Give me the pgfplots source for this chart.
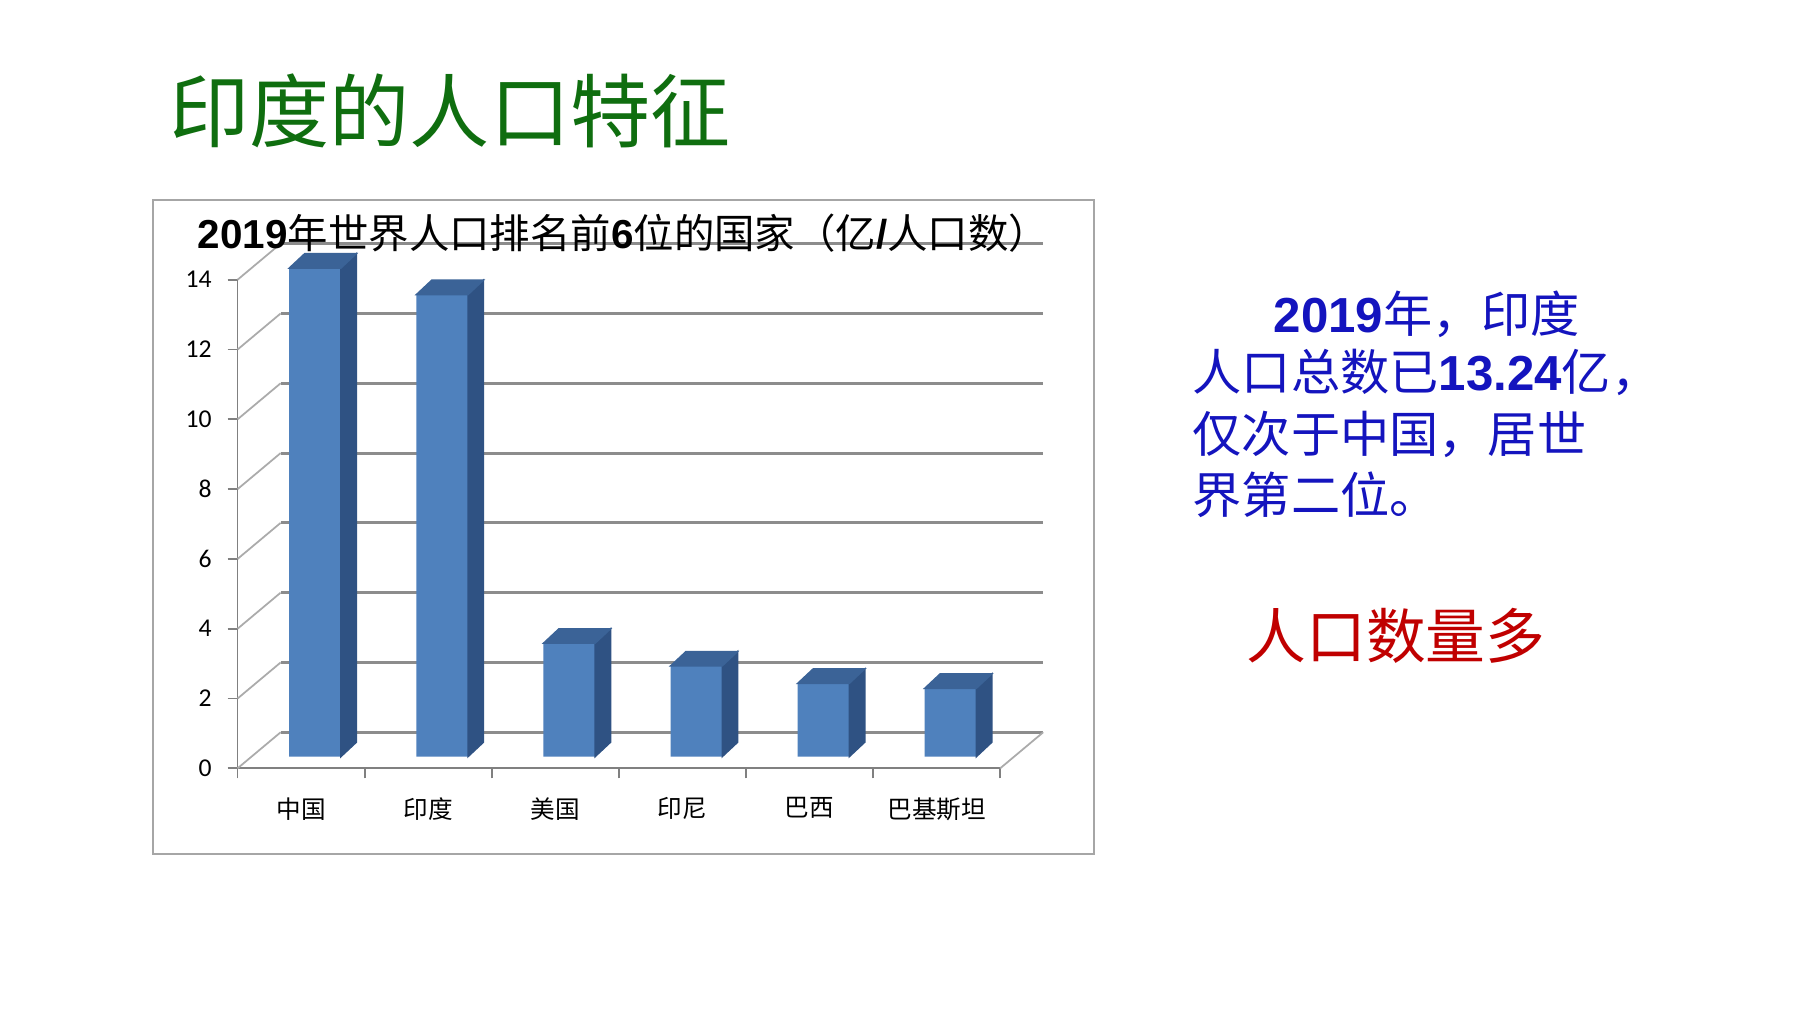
\documentclass[border=0pt]{standalone}
\usepackage{pgfplots}
\pgfplotsset{compat=1.18}
\usepackage{pgfplotstable}
\usepackage{fontspec}
\setmainfont{Liberation Sans}
\newfontfamily\cjk{Noto Sans CJK SC}
\newfontfamily\carlito{Carlito}
\definecolor{titlegreen}{HTML}{0F6E0F}
\definecolor{textblue}{HTML}{1414BE}
\definecolor{textred}{HTML}{C00000}
\definecolor{barfront}{HTML}{4F81BD}
\definecolor{barside}{HTML}{2F5283}
\definecolor{bartop}{HTML}{3B6397}
\definecolor{gridgray}{HTML}{8C8C8C}
\definecolor{diaggray}{HTML}{ABABAB}
\definecolor{framegray}{HTML}{A6A6A6}
\pgfdeclareplotmark{nothing}{}

\pgfplotstableread{
x pop
0 14.0
1 13.24
2 3.25
3 2.6
4 2.1
5 1.96
}\popdata

\begin{document}
\begin{tikzpicture}
\fill[white] (0,0) rectangle (18,10.12);
% main title
\node[text=titlegreen, font=\cjk\fontsize{22.8}{27}\selectfont, inner sep=0] at (4.50,9.01) {印度的人口特征};
% chart frame
\draw[framegray, line width=0.6pt] (1.53,1.58) rectangle (10.94,8.12);

% back wall
\begin{axis}[
  at={(2.806cm,2.797cm)}, anchor=south west,
  x=12.71mm, y=3.49mm,
  xmin=-0.5, xmax=5.5, ymin=0, ymax=14,
  axis line style={draw=none},
  xtick=\empty, ytick={0,2,...,14}, yticklabels={},
  major tick length=0pt,
  ymajorgrids, grid style={gridgray, line width=0.9pt},
]
\addplot[draw=none] coordinates {(0,0)};
\end{axis}

% front axis
\begin{axis}[
  at={(2.376cm,2.437cm)}, anchor=south west,
  x=12.71mm, y=3.49mm,
  xmin=-0.5, xmax=5.5, ymin=0, ymax=14,
  axis lines*=left,
  axis line style={draw=black!50, line width=0.5pt},
  tick style={draw=black!50, line width=0.5pt},
  tick align=outside,
  major tick length=1mm,
  ytick={0,2,...,14},
  xtick={-0.5,0.5,...,5.5},
  xticklabels={中国,印度,美国,印尼,巴西,巴基斯坦,{}},
  xticklabel style={font=\cjk\fontsize{7}{8.5}\selectfont, xshift=6.355mm, yshift=-0.7mm},
  yticklabel style={font=\carlito\fontsize{7.3}{9}\selectfont, xshift=-0.35mm},
  /pgf/number format/assume math mode=true,
  clip=false,
]
\addplot[draw=none] coordinates {(0,0)};
\pgfplotsinvokeforeach{0,2,...,14}{
  \draw[diaggray, line width=0.5pt] (axis cs:-0.5,#1) -- ++(4.3mm,3.6mm);
}
\draw[diaggray, line width=0.5pt] (axis cs:5.5,0) -- ++(4.3mm,3.6mm);
\end{axis}

% bars
\begin{axis}[
  at={(2.515cm,2.553cm)}, anchor=south west,
  x=12.71mm, y=3.49mm,
  xmin=-0.5, xmax=5.5, ymin=0, ymax=14,
  hide axis, clip=false,
]
\addplot[ybar, bar width=5.17mm, bar shift=0pt, fill=barfront, draw=none] table[x=x, y=pop] {\popdata};
\addplot[only marks, mark=nothing, scatter,
  visualization depends on={\thisrow{pop} \as \barval},
  scatter/@pre marker code/.code={%
    \fill[barside] (2.585mm,0pt) -- ++(1.55mm,1.45mm) -- ++(0pt,-\barval*3.49mm) -- ++(-1.55mm,-1.45mm) -- cycle;
    \fill[bartop] (-2.585mm,0pt) -- ++(1.55mm,1.45mm) -- ++(5.17mm,0pt) -- ++(-1.55mm,-1.45mm) -- cycle;
  },
  scatter/@post marker code/.code={},
] table[x=x, y=pop] {\popdata};
\end{axis}

% chart title
\node[font=\fontsize{11.5}{14}\selectfont, inner sep=0] at (6.235,7.79) {\textbf{2019}{\cjk 年世界人口排名前}\textbf{6}{\cjk 位的国家（亿}\textbf{/}{\cjk 人口数）}};

% right text
\node[anchor=west, inner sep=0, text=textblue, font=\fontsize{14}{17}\selectfont] at (12.73,6.98) {\textbf{2019}{\cjk 年，印度}};
\node[anchor=west, inner sep=0, text=textblue, font=\fontsize{14}{17}\selectfont] at (11.92,6.40) {{\cjk 人口总数已}\textbf{13.24}{\cjk 亿，}};
\node[anchor=west, inner sep=0, text=textblue, font=\fontsize{14}{17}\selectfont] at (11.92,5.78) {\cjk 仅次于中国，居世};
\node[anchor=west, inner sep=0, text=textblue, font=\fontsize{14}{17}\selectfont] at (11.92,5.17) {\cjk 界第二位。};
\node[text=textred, font=\cjk\fontsize{17}{20}\selectfont, inner sep=0] at (13.96,3.76) {人口数量多};
\end{tikzpicture}
\end{document}
